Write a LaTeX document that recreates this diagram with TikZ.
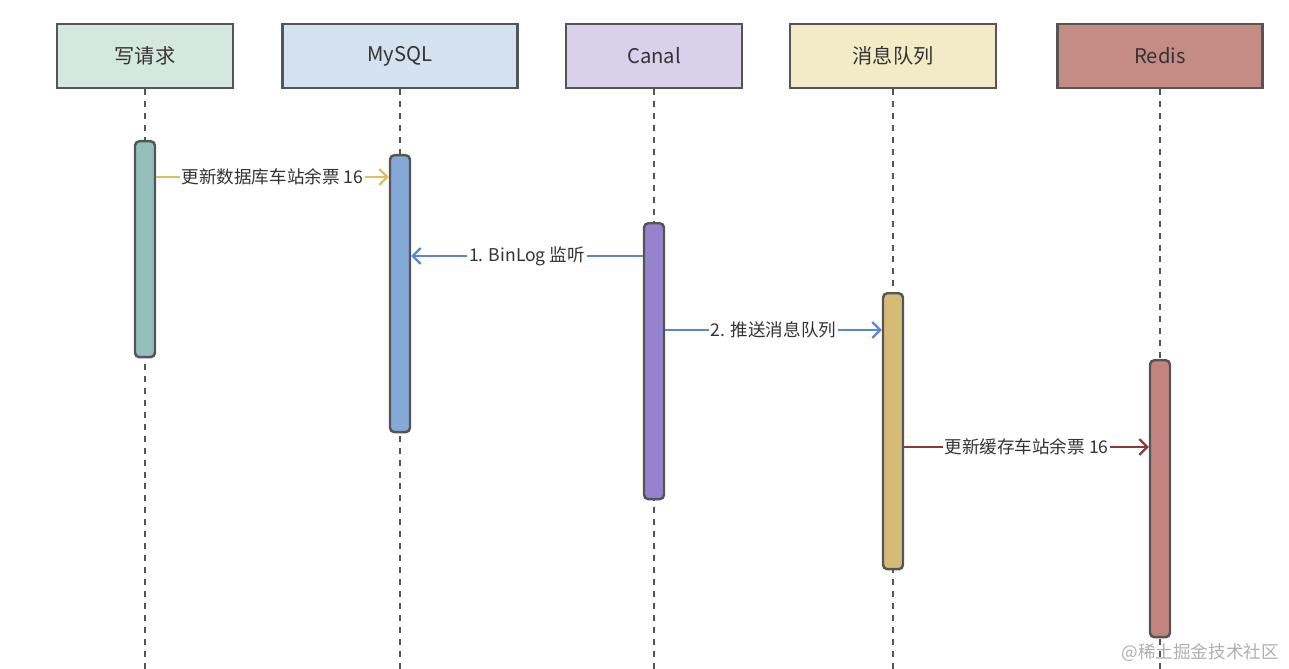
\documentclass[tikz,border=0pt]{standalone}
\usepackage{fontspec}
\usepackage{tikz}
\usetikzlibrary{arrows.meta,positioning}
\setmainfont{Noto Sans CJK SC}
\definecolor{linegray}{RGB}{85,85,85}
\definecolor{txtgray}{RGB}{51,51,51}
\definecolor{wmgray}{RGB}{175,175,175}
\definecolor{headwr}{RGB}{213,232,224}
\definecolor{headsql}{RGB}{212,225,238}
\definecolor{headcanal}{RGB}{217,209,236}
\definecolor{headmq}{RGB}{243,235,200}
\definecolor{headredis}{RGB}{196,140,131}
\definecolor{barwr}{RGB}{146,191,187}
\definecolor{barsql}{RGB}{133,169,214}
\definecolor{barcanal}{RGB}{149,132,205}
\definecolor{barmq}{RGB}{214,187,118}
\definecolor{barredis}{RGB}{196,132,126}
\definecolor{arryel}{RGB}{224,190,90}
\definecolor{arrblue}{RGB}{91,133,214}
\definecolor{arrred}{RGB}{139,58,58}

\begin{document}
\begin{tikzpicture}[x=0.02cm,y=-0.02cm,head/.style={draw=linegray,line width=1.4pt,minimum height=1.28cm,font=\fontsize{11.5}{13}\selectfont,text=txtgray},bar/.style={draw=linegray,line width=1.4pt,rounded corners=2.5pt,minimum width=0.4cm,inner sep=0pt},life/.style={draw=linegray,line width=1.2pt,dash pattern=on 3.4pt off 3.4pt},msg/.style={-{Straight Barb[length=4.5pt,width=9pt]},line width=1.3pt},lbl/.style={fill=white,inner sep=1pt,font=\fontsize{10}{12}\selectfont,text=txtgray}]
\useasboundingbox (0,0) rectangle (1289,669);

% Participants with their dashed lifelines.
\foreach \xx/\nm/\title/\bw in {145/wr/写请求/3.52,400/sql/MySQL/4.7,654/canal/Canal/3.52,893/mq/消息队列/4.12,1160/redis/Redis/4.1}{
 \node[head,fill=head\nm,minimum width=\bw cm] (\nm) at (\xx,56) {\title};
 \draw[life] (\nm.south) -- (\nm.south |- 0,669);
}
% Activation bars.
\foreach \nm/\yy/\hh in {wr/140/4.32,sql/154/5.54,canal/222/5.52,mq/292/5.52,redis/359/5.54}{
 \node[bar,fill=bar\nm,minimum height=\hh cm,anchor=north] (\nm bar) at (\nm.south |- 0,\yy) {};
}
\draw[msg,draw=arryel] (wrbar.east |- 0,177) -- node[lbl] {更新数据库车站余票 16} (sqlbar.west |- 0,177);
\draw[msg,draw=arrblue] (canalbar.west |- 0,256) -- node[lbl] {1. BinLog 监听} (sqlbar.east |- 0,256);
\draw[msg,draw=arrblue] (canalbar.east |- 0,330) -- node[lbl] {2. 推送消息队列} (mqbar.west |- 0,330);
\draw[msg,draw=arrred] (mqbar.east |- 0,447) -- node[lbl] {更新缓存车站余票 16} (redisbar.west |- 0,447);
\node[anchor=east,font=\fontsize{10}{12}\selectfont,text=wmgray] (wm) at (1285,653) {@稀土掘金技术社区};
\end{tikzpicture}
\end{document}
